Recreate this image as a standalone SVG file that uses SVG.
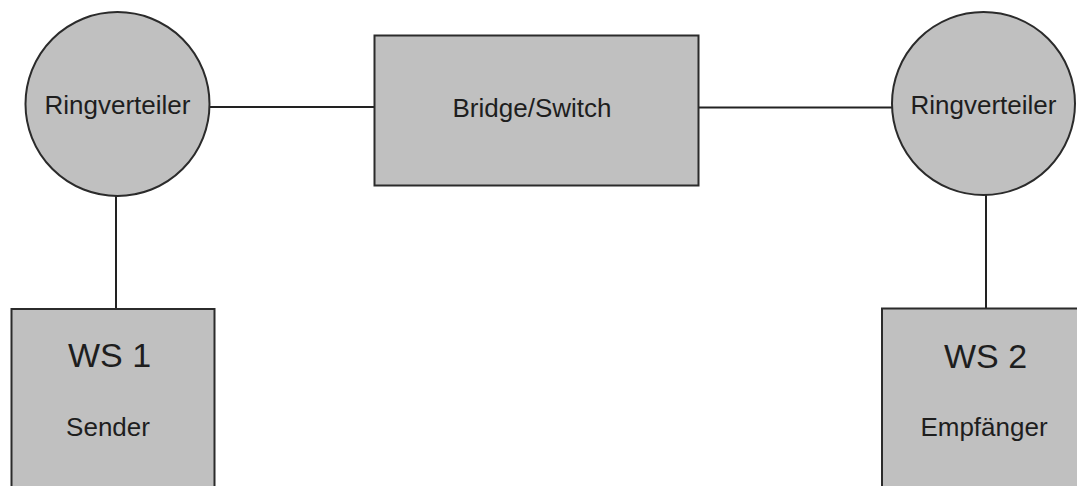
<svg xmlns="http://www.w3.org/2000/svg" width="1077" height="486" viewBox="0 0 1077 486">
  <style>
    .shape { fill: #c0c0c0; stroke: #2b2b2b; stroke-width: 2; }
    .link { stroke: #222; stroke-width: 2; fill: none; }
    text { font-family: "Liberation Sans", Arial, sans-serif; fill: #1e1e1e; text-anchor: middle; }
    .lbl { font-size: 26px; }
    .big { font-size: 34px; }
  </style>
  <rect width="1077" height="486" fill="#ffffff"/>

  <!-- connectors -->
  <g id="connectors">
    <line class="link" x1="209" y1="107" x2="374" y2="107"/>
    <line class="link" x1="698" y1="107.5" x2="892" y2="107.5"/>
    <line class="link" x1="116" y1="196" x2="116" y2="309"/>
    <line class="link" x1="986" y1="195" x2="986" y2="309"/>
  </g>

  <!-- ring distributor, left -->
  <g id="ring-left">
    <circle class="shape" cx="117.5" cy="104" r="92"/>
    <text class="lbl" x="117.5" y="114">Ringverteiler</text>
  </g>

  <!-- bridge / switch -->
  <g id="bridge">
    <rect class="shape" x="374.5" y="35.5" width="324" height="150"/>
    <text class="lbl" x="532" y="116.5">Bridge/Switch</text>
  </g>

  <!-- ring distributor, right -->
  <g id="ring-right">
    <circle class="shape" cx="983.5" cy="103.5" r="91.5"/>
    <text class="lbl" x="983.5" y="114">Ringverteiler</text>
  </g>

  <!-- workstation 1 -->
  <g id="ws1">
    <rect class="shape" x="11.5" y="309" width="203" height="190"/>
    <text class="big" x="109.5" y="367">WS 1</text>
    <text class="lbl" x="108" y="435.5">Sender</text>
  </g>

  <!-- workstation 2 -->
  <g id="ws2">
    <rect class="shape" x="882" y="308.5" width="210" height="190"/>
    <text class="big" x="985.5" y="368">WS 2</text>
    <text class="lbl" x="984" y="435.5">Empfänger</text>
  </g>
</svg>
